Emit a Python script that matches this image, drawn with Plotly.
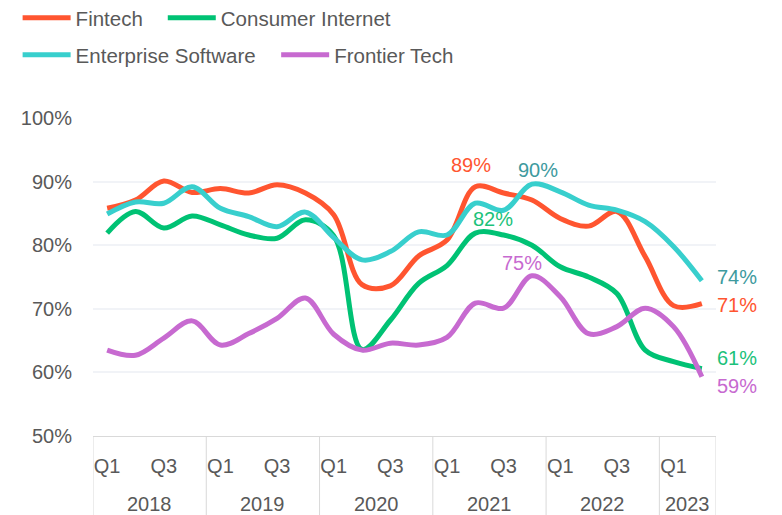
import plotly.graph_objects as go

# ---------------- data ----------------
years = ["2018", "2019", "2020", "2021", "2022", "2023"]
quarters_per_year = [4, 4, 4, 4, 4, 2]
quarter_names = ["Q1", "Q2", "Q3", "Q4"]
shown_quarters = ["Q1", "Q3"]

fintech = [85.8, 87.1, 90.1, 88.3, 88.9, 88.2, 89.5, 88.2, 84.8, 73.8, 73.6, 78.3,
           80.8, 89.2, 88.2, 87.1, 84.2, 83.0, 85.3, 78.2, 70.5, 70.8]
consumer = [81.9, 85.3, 82.7, 84.6, 83.2, 81.6, 81.1, 84.0, 81.5, 63.6, 68.2, 74.0,
            76.8, 81.9, 81.6, 80.0, 76.6, 75.0, 72.4, 63.5, 61.7, 60.6]
enterprise = [84.9, 86.8, 86.6, 89.2, 85.8, 84.5, 82.9, 85.2, 81.2, 77.7, 79.0, 82.1,
              81.6, 86.6, 85.5, 89.6, 88.4, 86.3, 85.5, 83.7, 79.8, 74.4]
frontier = [63.5, 62.7, 65.4, 68.1, 64.3, 66.1, 68.5, 71.7, 66.0, 63.5, 64.6, 64.3,
            65.5, 70.9, 70.1, 75.2, 71.9, 66.1, 67.2, 70.1, 67.2, 59.3]

series_names = ["Fintech", "Consumer Internet", "Enterprise Software", "Frontier Tech"]
series_values = [fintech, consumer, enterprise, frontier]
series_colors = ["#FF5530", "#00C274", "#38CFCD", "#C76AD0"]
label_colors = ["#FF5530", "#1BC27A", "#3D9A9E", "#C76AD0"]

# legend placement (paper coords) per series
legend_pos = [(-0.121, 1.3145), (0.112, 1.3145), (-0.121, 1.198), (0.294, 1.198)]

# peak labels: (series index, point index, xshift, yshift)
peak_labels = [(0, 13, -4, 22), (1, 13, 18, 14), (2, 15, 6, 14), (3, 15, -10, 13)]
# end label vertical nudges (fintech, consumer, enterprise, frontier)
end_label_yshift = [-1, 11, 4, -9]

# ---------------- build ----------------
x_idx = []
tick_vals, tick_text = [], []
year_mid, boundaries = [], [-0.5]
i = 0
for y, n in zip(years, quarters_per_year):
    start = i
    for q in quarter_names[:n]:
        x_idx.append(i)
        if q in shown_quarters:
            tick_vals.append(i)
            tick_text.append(q)
        i += 1
    year_mid.append((start + i - 1) / 2)
    boundaries.append(i - 0.5)

FONT = "Liberation Sans, Arial, sans-serif"
TXT = "#595959"
FS = 20

fig = go.Figure()
legend_names = ["legend", "legend2", "legend3", "legend4"]
for name, vals, col, lg in zip(series_names, series_values, series_colors, legend_names):
    fig.add_trace(go.Scatter(
        x=x_idx, y=vals, name=name, mode="lines",
        line=dict(color=col, width=5, shape="spline", smoothing=1.0),
        legend=lg, showlegend=True, hoverinfo="skip"))

annotations = []
for si, pi, xs, ys in peak_labels:
    v = series_values[si][pi]
    annotations.append(dict(x=x_idx[pi], y=v, xref="x", yref="y", text=f"{round(v)}%",
                            showarrow=False, xshift=xs, yshift=ys,
                            font=dict(family=FONT, size=FS, color=label_colors[si])))
for si, vals in enumerate(series_values):
    v = vals[-1]
    annotations.append(dict(x=x_idx[-1], y=v, xref="x", yref="y", text=f"{round(v)}%",
                            showarrow=False, xanchor="left", yanchor="middle", xshift=14,
                            borderpad=0, yshift=end_label_yshift[si],
                            font=dict(family=FONT, size=FS, color=label_colors[si])))
for y, m in zip(years, year_mid):
    annotations.append(dict(x=m, y=-0.214, xref="x", yref="paper", text=y,
                            showarrow=False, yanchor="middle", borderpad=0,
                            font=dict(family=FONT, size=FS, color=TXT)))

shapes = []
for b in boundaries:
    shapes.append(dict(type="line", xref="x", yref="paper", x0=b, x1=b, y0=0, y1=-0.25,
                       line=dict(color="#D9D9D9", width=1)))

layout_legends = {}
for lg, (lx, ly) in zip(legend_names, legend_pos):
    layout_legends[lg] = dict(orientation="h", x=lx, xanchor="left", y=ly, yanchor="middle",
                              itemwidth=48, font=dict(family=FONT, size=20.5, color=TXT),
                              bgcolor="rgba(0,0,0,0)", visible=True)

# page has an 8px body margin: the figure sits at (8, 8)
fig.update_layout(
    width=774, height=507, showlegend=True,
    margin=dict(l=85, r=66, t=110, b=79, autoexpand=False),
    paper_bgcolor="white", plot_bgcolor="white",
    font=dict(family=FONT, size=FS, color=TXT),
    annotations=annotations, shapes=shapes,
    xaxis=dict(range=[-0.5, len(x_idx) - 0.5], tickvals=tick_vals, ticktext=tick_text,
               showgrid=False, zeroline=False, showline=True, linecolor="#D9D9D9",
               linewidth=1, ticks="", ticklabelstandoff=12,
               tickfont=dict(family=FONT, size=FS, color=TXT)),
    yaxis=dict(range=[50, 100], dtick=10, ticksuffix="%", showgrid=True,
               gridcolor="#F1F3F7", gridwidth=1.5, zeroline=False, showline=False,
               ticks="", ticklabelstandoff=20,
               tickfont=dict(family=FONT, size=FS, color=TXT)),
    **layout_legends,
)

fig.write_html("out.html")
